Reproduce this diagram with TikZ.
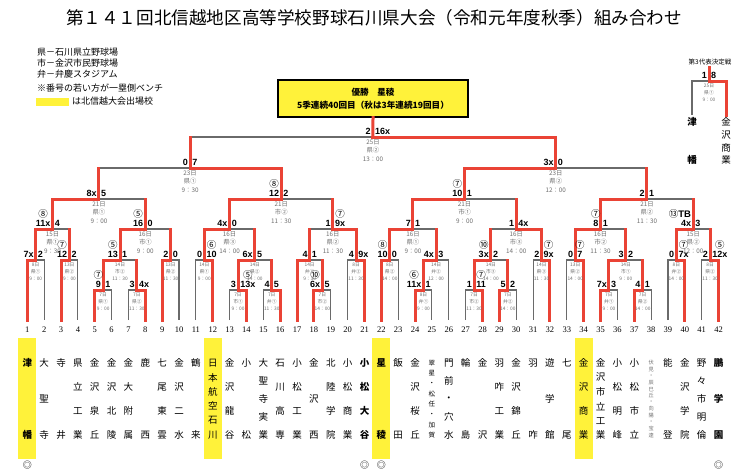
\documentclass[tikz,border=0pt]{standalone}
\usepackage{fontspec}
\setmainfont{Liberation Serif}
\newfontfamily\jp{Noto Sans CJK JP}
\newfontfamily\scr{Liberation Sans}
\usetikzlibrary{positioning, calc}
\definecolor{winred}{HTML}{EA4335}
\definecolor{linegray}{HTML}{6A6A6A}
\definecolor{infogray}{HTML}{6E6E6E}
\definecolor{hlyellow}{HTML}{FFF23A}

% bracket: match / left / right / level
\def\bouts{A1/t1/t2/260, A2/t3/t4/260, A3/A1/A2/229, A4/t5/t6/290, A5/t7/t8/290,
  A6/A4/A5/260, A7/t9/t10/260, A8/A6/A7/229, A9/A3/A8/199,
  B1/t11/t12/260, B2/t13/t14/290, B3/t15/t16/290, B4/B2/B3/260, B5/B1/B4/229,
  B6/t18/t19/290, B7/t17/B6/260, B8/t20/t21/260, B9/B7/B8/229, B10/B5/B9/199,
  S1/A9/B10/168,
  C1/t22/t23/260, C2/t24/t25/290, C3/C2/t26/260, C4/C1/C3/229, C5/t27/t28/290,
  C6/t29/t30/290, C7/C5/C6/260, C8/t31/t32/260, C9/C7/C8/229, C10/C4/C9/199,
  D1/t33/t34/260, D2/t35/t36/290, D3/t37/t38/290, D4/D2/D3/260, D5/D1/D4/229,
  D6/t39/t40/260, D7/t41/t42/260, D8/D6/D7/229, D9/D5/D8/199,
  S2/C10/D9/168, F/S1/S2/137}

\begin{document}
\begin{tikzpicture}[x=1pt, y=-1pt,
    bline/.style={linegray, line width=1.1pt},
    rline/.style={winred, line width=3pt, line cap=rect},
    score/.style={font=\scr\bfseries\fontsize{9}{9}\selectfont, inner sep=0pt},
    cnum/.style={font=\jp\fontsize{9.5}{9.5}\selectfont, inner sep=0pt},
    infos/.style={font=\jp\fontsize{4.8}{6.8}\selectfont, text=infogray, align=center, inner sep=0pt, anchor=north},
    infob/.style={font=\jp\fontsize{6.3}{8.4}\selectfont, text=infogray, align=center, inner sep=0pt, anchor=north},
    num/.style={font=\fontsize{8.5}{9}\selectfont, inner sep=0pt},
    nm/.style={font=\jp\fontsize{9.5}{10}\selectfont, inner sep=0pt},
    nb/.style={font=\jp\bfseries\fontsize{9.5}{10}\selectfont, inner sep=0pt},
    ns/.style={font=\jp\fontsize{6.5}{7}\selectfont, inner sep=0pt},
    nt/.style={font=\jp\fontsize{5.2}{6}\selectfont, text=infogray, inner sep=0pt},
    legend/.style={font=\jp\fontsize{9}{10}\selectfont, anchor=west, inner sep=0pt},
    champ/.style={draw=black, line width=1.4pt, fill=hlyellow, minimum width=190pt, minimum height=37pt,
                 font=\jp\bfseries\fontsize{8.6}{13}\selectfont, align=center, inner sep=0pt},
]
    \useasboundingbox (0,0) rectangle (746,475);

    % Title and legend
    \node[font=\jp\fontsize{17.6}{18}\selectfont, inner sep=0pt] (title) at (374,18)
        {第１４１回北信越地区高等学校野球石川県大会（令和元年度秋季）組み合わせ};
    \node[legend] (lg1) at (37,52) {県－石川県立野球場};
    \node[legend] (lg2) at (37,63.5) {市－金沢市民野球場};
    \node[legend] (lg3) at (37,74.5) {弁－弁慶スタジアム};
    \node[legend] (lg4) at (37,88) {※番号の若い方が一塁側ベンチ};
    \fill[hlyellow] (36,97.5) rectangle (69,105.5);
    \node[legend] (lg5) at (72,101) {は北信越大会出場校};

    \node[champ] (champ) at (373,98.5) {優勝　星稜\\5季連続40回目（秋は3年連続19回目）};

    % Teams
    \foreach \i in {1,...,42}
        \coordinate (t\i) at ({27.3+16.86*(\i-1)}, 320);
    \foreach \i in {1,12,22,34}
        \fill[hlyellow] ($(t\i)+(-9,18)$) rectangle ($(t\i)+(9,139)$);
    \foreach \i in {1,...,42}
        \node[num] (k\i) at ($(t\i)+(0,9.5)$) {\i};
    \foreach \i/\n/\st/\s in {1/2/nb/{津,幡}, 2/3/nm/{大,聖,寺}, 3/2/nm/{寺,井}, 4/4/nm/{県,立,工,業},
        5/4/nm/{金,沢,泉,丘}, 6/4/nm/{金,沢,北,陵}, 7/4/nm/{金,大,附,属}, 8/2/nm/{鹿,西},
        9/4/nm/{七,尾,東,雲}, 10/4/nm/{金,沢,二,水}, 11/2/nm/{鶴,来}, 12/6/nm/{日,本,航,空,石,川},
        13/4/nm/{金,沢,龍,谷}, 14/2/nm/{小,松}, 15/5/nm/{大,聖,寺,実,業}, 16/4/nm/{石,川,高,専},
        17/4/nm/{小,松,工,業}, 18/3/nm/{金,沢,西}, 19/4/nm/{北,陸,学,院}, 20/4/nm/{小,松,商,業},
        21/4/nb/{小,松,大,谷}, 22/2/nb/{星,稜}, 23/2/nm/{飯,田}, 24/4/nm/{金,沢,桜,丘},
        25/8/ns/{翠,星,・,松,任,・,加,賀}, 26/5/nm/{門,前,・,穴,水}, 27/2/nm/{輪,島}, 28/2/nm/{金,沢},
        29/4/nm/{羽,咋,工,業}, 30/4/nm/{金,沢,錦,丘}, 31/2/nm/{羽,咋}, 32/3/nm/{遊,学,館},
        33/2/nm/{七,尾}, 34/4/nm/{金,沢,商,業}, 35/6/nm/{金,沢,市,立,工,業}, 36/4/nm/{小,松,明,峰},
        37/4/nm/{小,松,市,立}, 38/12/nt/{伏,見,・,辰,巳,丘,・,向,陽,・,宝,達}, 39/2/nm/{能,登},
        40/4/nm/{金,沢,学,院}, 41/5/nm/{野,々,市,明,倫}, 42/3/nb/{鵬,学,園}}
        \foreach \c [count=\k] in \s
            \node[\st] (n\i-\k) at ($(t\i)+(0,{43+(\k-1)*72/(\n-1)})$) {\c};
    \foreach \i in {1,21,22,42}
        \node[font=\jp\fontsize{9}{9}\selectfont, inner sep=0pt] (s\i) at ($(t\i)+(0,145)$) {◎};

    % Bracket
    \foreach \m/\a/\b/\y in \bouts {
        \coordinate (\m-x) at ($(\a)!.5!(\b)$);
        \coordinate (\m) at (\m-x |- 0,\y);
    }
    \foreach \m/\a/\b/\y in \bouts
        \draw[bline] (\a) |- (\m) -| (\b);
    \foreach \w/\m in {t1/A1, t3/A2, A1/A3, t5/A4, t8/A5, A4/A6, t9/A7, A6/A8, A3/A9,
        t12/B1, t14/B2, t16/B3, B2/B4, B1/B5, t18/B6, t17/B7, t21/B8, B8/B9, B5/B10, B10/S1,
        t22/C1, t24/C2, C2/C3, C1/C4, t28/C5, t29/C6, C5/C7, t32/C8, C8/C9, C4/C10, C10/S2,
        t34/D1, t35/D2, t37/D3, D2/D4, D1/D5, t40/D6, t42/D7, D6/D8, D5/D9, S2/F}
        \draw[rline] (\w) |- (\m);
    \foreach \l/\m in {A2/A3, A5/A6, A7/A8, A8/A9, A9/S1, B3/B4, B4/B5, B6/B7, B7/B9, B9/B10,
        C3/C4, C6/C7, C7/C9, C9/C10, D3/D4, D4/D5, D7/D8, D8/D9, D9/S2, S1/F}
        \draw[rline] (\l) -- (\l |- \m);
    \draw[rline] (F) -- (champ.south);

    % Scores
    \foreach \m/\s/\t in {A1/7x/2, A2/12/2, A3/11x/4, A4/9/1, A5/3/4x, A6/13/1, A7/2/0, A8/16/0, A9/8x/5,
        B1/0/10, B2/3/13x, B3/4/5, B4/6x/5, B5/4x/0, B6/6x/5, B7/4/1, B8/4/9x, B9/1/9x, B10/12/2, S1/0/7,
        C1/10/0, C2/11x/1, C3/4x/3, C4/7/1, C5/1/11, C6/5/2, C7/3x/2, C8/2/9x, C9/1/4x, C10/10/1,
        D1/0/7, D2/7x/3, D3/4/1, D4/3/2, D5/8/1, D6/0/7x, D7/2/12x, D8/4x/3, D9/2/1, S2/3x/0, F/2/16x} {
        \node[score, anchor=south east] (\m-l) at ([shift={(-2,-2.5)}]\m) {\s};
        \node[score, anchor=south west] (\m-r) at ([shift={(2,-2.5)}]\m) {\t};
    }
    \foreach \s/\c in {A2-l/⑦, A3-l/⑧, A4-l/⑦, A6-l/⑤, A8-l/⑤, B1-r/⑥, B2-r/⑤, B6-l/⑩, B9-r/⑦,
        B10-l/⑧, C1-l/⑧, C2-l/⑥, C5-r/⑦, C7-l/⑩, C8-r/⑦, C10-l/⑦, D1-r/⑦, D5-l/⑦, D6-r/⑦, D7-r/⑤}
        \node[cnum, above=1pt of \s] (\s-c) {\c};
    \node[cnum, anchor=south east] (D8-l-c) at ([yshift=1pt]D8-l.north east) {⑬{\scr\bfseries TB}};

    % Dates and grounds
    \foreach \m/\d/\p/\t in {A1/8日/県①/9：00, A2/13日/県②/9：00, A4/7日/県①/9：00, A5/7日/県②/11：30,
        A6/14日/市②/11：30, A7/13日/県②/11：30, B1/14日/県①/9：00, B2/7日/市①/9：00, B3/7日/弁①/11：30,
        B4/14日/県②/14：00, B6/7日/市②/14：00, B7/14日/弁①/9：30, B8/8日/弁②/11：30, C1/8日/県②/14：00,
        C2/8日/弁①/9：00, C3/14日/弁②/12：00, C5/7日/市②/11：30, C6/7日/弁②/14：00, C7/14日/市③/14：00,
        C8/14日/県③/11：30, D1/13日/県②/14：00, D2/7日/弁①/9：00, D3/7日/県②/14：00, D4/14日/市①/9：00,
        D6/8日/弁②/14：00, D7/8日/県②/11：30}
        \node[infos] (\m-i) at ([yshift=-2.5pt]\m) {\d\\\p\\\t};
    \foreach \m/\d/\p/\t in {A3/15日/県①/9：30, A8/16日/市①/9：00, A9/21日/県①/9：00, B5/16日/県③/14：00,
        B9/16日/県②/11：30, B10/21日/市②/11：30, S1/23日/県①/9：30, C4/16日/県①/9：00, C9/16日/市③/14：00,
        C10/21日/市①/9：00, D5/16日/市②/11：30, D8/15日/県②/12：00, D9/21日/県②/11：30,
        S2/23日/県②/12：00, F/25日/県②/13：00}
        \node[infob] (\m-i) at ([yshift=-2.5pt]\m) {\d\\\p\\\t};

    % Third place
    \node[font=\jp\fontsize{6.5}{7}\selectfont, inner sep=0pt] (qt) at (710,62) {第3代表決定戦};
    \coordinate (q1) at (692,115);
    \coordinate (q2) at (726,115);
    \coordinate (Q) at (709,81);
    \draw[bline] (q1) |- (Q) -| (q2);
    \draw[rline] (q2) |- (Q) -- ([yshift=-2pt]Q |- qt.south);
    \node[score, anchor=south east] (Q-l) at ([shift={(-2,-2.5)}]Q) {1};
    \node[score, anchor=south west] (Q-r) at ([shift={(2,-2.5)}]Q) {8};
    \node[infos] (Q-i) at ([yshift=-2.5pt]Q) {25日\\県①\\9：00};
    \node[nb] (qa1) at ($(q1)+(0,7)$) {津};
    \node[nb] (qa2) at ($(q1)+(0,45)$) {幡};
    \foreach \c [count=\k] in {金,沢,商,業}
        \node[nm] (qb\k) at ($(q2)+(0,{7+(\k-1)*12.7})$) {\c};
\end{tikzpicture}
\end{document}
